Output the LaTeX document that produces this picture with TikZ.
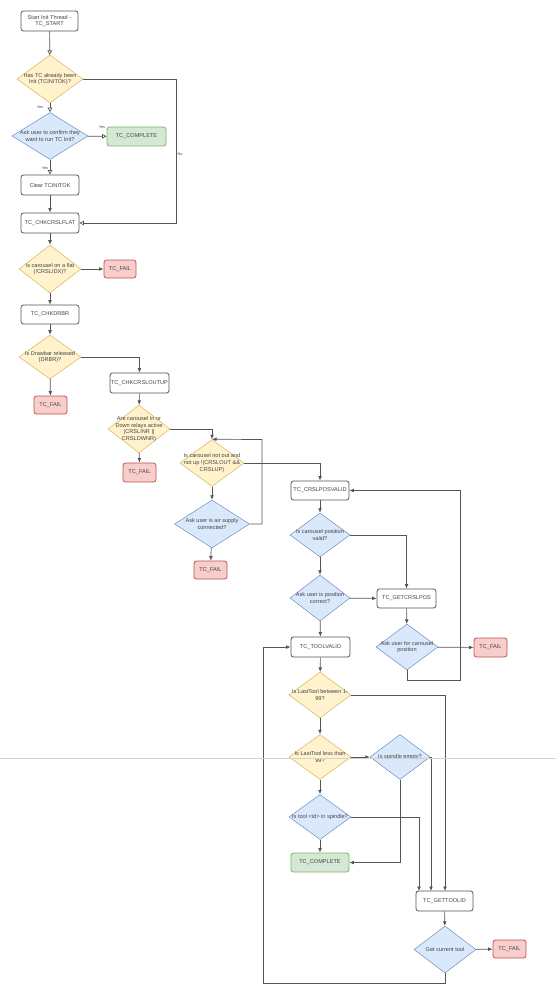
\documentclass[tikz,border=0pt]{standalone}
\usepackage{fontspec}
\setmainfont{Liberation Sans}
\usetikzlibrary{arrows.meta,shapes.geometric,calc}
\definecolor{yfill}{HTML}{FFF2CC}\definecolor{ydraw}{HTML}{D6B656}
\definecolor{bfill}{HTML}{DAE8FC}\definecolor{bdraw}{HTML}{6C8EBF}
\definecolor{gfill}{HTML}{D5E8D4}\definecolor{gdraw}{HTML}{82B366}
\definecolor{rfill}{HTML}{F8CECC}\definecolor{rdraw}{HTML}{B85450}
\definecolor{txt}{HTML}{444444}
\definecolor{edge}{HTML}{555555}
\tikzset{
  txtstyle/.style={font=\fontsize{5.6}{6.6}\selectfont, text=txt, align=center, inner sep=0pt},
  box/.style={draw=edge, fill=white, rounded corners=2.5pt, line width=0.8pt, minimum width=58pt, minimum height=20pt, inner sep=0pt, txtstyle},
  gbox/.style={box, draw=gdraw, fill=gfill},
  rbox/.style={box, draw=rdraw, fill=rfill, minimum width=33pt, minimum height=18pt},
  ydia/.style={diamond, draw=ydraw, fill=yfill, line width=0.5pt, inner sep=0pt, minimum width=62pt, minimum height=46pt},
  bdia/.style={diamond, draw=bdraw, fill=bfill, line width=0.5pt, inner sep=0pt, minimum width=62pt, minimum height=46pt},
  lbl/.style={font=\fontsize{3.8}{4.5}\selectfont, text=txt, inner sep=0pt},
  conn/.style={draw=edge, line width=0.7pt, -{Latex[length=4.5pt,width=3.8pt]}},
  oconn/.style={draw=edge, line width=0.7pt, -{Triangle[open,length=4.5pt,width=4.5pt]}},
}
\begin{document}
\begin{tikzpicture}[x=1pt,y=-1pt]
\useasboundingbox (0,0) rectangle (556,1000);
% nodes
\node[box, minimum width=57pt] (start) at (49.5,21) {Start Init Thread -\\TC\_START};
\node[ydia, minimum width=66pt, minimum height=48pt] (d1) at (50,79) {};
\node[txtstyle] (d1t) at (d1) {Has TC already been\\Init (TCINITOK)?};
\node[bdia, minimum width=76pt, minimum height=47pt] (d2) at (50,136) {};
\node[txtstyle] (d2t) at (d2) {Ask user to confirm they\\want to run TC Init?};
\node[gbox, minimum width=59pt, minimum height=19pt] (tcc1) at (136.5,136.5) {TC\_COMPLETE};
\node[box] (clear) at (50,185) {Clear TCINITOK};
\node[box] (chkflat) at (50,223) {TC\_CHKCRSLFLAT};
\node[ydia, minimum height=48pt] (d3) at (50,269) {};
\node[txtstyle] (d3t) at (d3) {Is carousel on a flat\\(!CRSLIDX)?};
\node[rbox, minimum width=32pt] (fail1) at (120,269) {TC\_FAIL};
\node[box, minimum height=19pt] (chkdrbr) at (50,314.5) {TC\_CHKDRBR};
\node[ydia, minimum height=44pt] (d4) at (50,357) {};
\node[txtstyle] (d4t) at (d4) {Is Drawbar released\\(DRBR)?};
\node[rbox] (fail2) at (50.5,405) {TC\_FAIL};
\node[box, minimum width=59pt] (chkout) at (139.5,383) {TC\_CHKCRSLOUTUP};
\node[ydia, minimum height=48pt] (d5) at (139,429) {};
\node[txtstyle] (d5t) at (d5) {Are carousel In or\\Down relays active\\(CRSLINR ||\\CRSLDWNR)};
\node[rbox, minimum height=19pt] (fail3) at (139.5,472.5) {TC\_FAIL};
\node[ydia, minimum width=64pt, minimum height=47pt] (d6) at (212,463) {};
\node[txtstyle] (d6t) at (d6) {Is carousel not out and\\not up !(CRSLOUT \&\&\\CRSLUP)};
\node[bdia, minimum width=75pt, minimum height=48pt] (d7) at (212,524) {};
\node[txtstyle] (d7t) at (d7) {Ask user is air supply\\connected?};
\node[rbox] (fail4) at (210.5,570) {TC\_FAIL};
\node[box, minimum height=19pt] (crslpos) at (320,490.5) {TC\_CRSLPOSVALID};
\node[bdia, minimum width=60pt, minimum height=44pt] (d8) at (320,535) {};
\node[txtstyle] (d8t) at (d8) {Is carousel position\\valid?};
\node[bdia, minimum width=60pt, minimum height=46pt] (d9) at (320,598) {};
\node[txtstyle] (d9t) at (d9) {Ask user is position\\correct?};
\node[box, minimum width=59pt, minimum height=19pt] (getcrsl) at (406.5,598.5) {TC\_GETCRSLPOS};
\node[bdia] (d10) at (407,647) {};
\node[txtstyle] (d10t) at (d10) {Ask user for carousel\\position};
\node[rbox, minimum height=19pt] (fail5) at (490.5,647.5) {TC\_FAIL};
\node[box, minimum width=59pt] (toolvalid) at (320.5,647) {TC\_TOOLVALID};
\node[ydia] (d11) at (320,695) {};
\node[txtstyle] (d11t) at (d11) {Is LastTool between 1-\\99?};
\node[ydia, minimum height=45pt] (d12) at (320,757) {};
\node[txtstyle] (d12t) at (d12) {Is LastTool less than\\99?};
\node[bdia, minimum width=60pt, minimum height=45pt] (d13) at (400,757) {};
\node[txtstyle] (d13t) at (d13) {Is spindle empty?};
\node[bdia, minimum height=45pt] (d14) at (320,817) {};
\node[txtstyle] (d14t) at (d14) {Is tool <id> in spindle?};
\node[gbox, minimum height=19pt] (tcc2) at (320,862.5) {TC\_COMPLETE};
\node[box, minimum width=57pt] (gettool) at (444.5,901) {TC\_GETTOOLID};
\node[bdia, minimum height=47pt] (d15) at (445,949.5) {};
\node[txtstyle] (d15t) at (d15) {Get current tool};
\node[rbox] (fail6) at (509.5,949) {TC\_FAIL};
% coordinates for bends
\coordinate (c1) at (176,79);
\coordinate (c2) at (262,439.5);
\coordinate (c3) at (407,680);
\coordinate (c4) at (460,680);
\coordinate (c5) at (445,983);
\coordinate (c6) at (263,983);
\coordinate (g1) at (445,891);
\coordinate (g2) at (431,891);
\coordinate (g3) at (419,891);
% connectors
\draw[oconn] (start) -- (d1);
\draw[oconn] (d1) -- (d2);
\node[lbl] (y1) at (40,107) {Yes};
\draw[oconn] (d2) -- (tcc1);
\node[lbl] (y2) at (102,127) {Yes};
\draw[oconn] (d2) -- (clear);
\node[lbl] (y3) at (45,168) {Yes};
\draw[conn] (clear) -- (chkflat);
\draw[oconn] (d1.east) -- (c1) |- (chkflat.east);
\node[lbl] (n1) at (180,154) {No};
\draw[conn] (chkflat) -- (d3);
\draw[conn] (d3) -- (fail1);
\draw[conn] (d3) -- (chkdrbr);
\draw[conn] (chkdrbr) -- (d4);
\draw[conn] (d4) -- (fail2);
\draw[conn] (d4.east) -| (chkout.north);
\draw[conn] (chkout) -- (d5);
\draw[conn] (d5) -- (fail3);
\draw[conn] (d5.east) -| (d6.north);
\draw[conn] (d6) -- (d7);
\draw[conn] (d7.east) -| (c2) -- (d6.north);
\draw[conn] (d7) -- (fail4);
\draw[conn] (d6.east) -| (crslpos.north);
\draw[conn] (crslpos) -- (d8);
\draw[conn] (d8.east) -| (getcrsl.north);
\draw[conn] (d8) -- (d9);
\draw[conn] (d9) -- (getcrsl);
\draw[conn] (d9) -- (toolvalid);
\draw[conn] (getcrsl) -- (d10);
\draw[conn] (d10) -- (fail5);
\draw[conn] (d10.south) -- (c3) -- (c4) |- (crslpos.east);
\draw[conn] (toolvalid) -- (d11);
\draw[conn] (d11.east) -| (g1);
\draw[conn] (d11) -- (d12);
\draw[conn] (d12) -- (d13);
\draw[conn] (d13.east) -| (g2);
\draw[conn] (d13.south) |- (tcc2.east);
\draw[conn] (d12) -- (d14);
\draw[conn] (d14.east) -| (g3);
\draw[conn] (d14) -- (tcc2);
\draw[conn] (gettool) -- (d15);
\draw[conn] (d15) -- (fail6);
\draw[conn] (d15.south) -- (c5) -- (c6) |- (toolvalid.west);
% stray horizontal rule across the page
\draw[gray!35, line width=0.8pt] (0,758) -- (556,758);
\end{tikzpicture}
\end{document}
